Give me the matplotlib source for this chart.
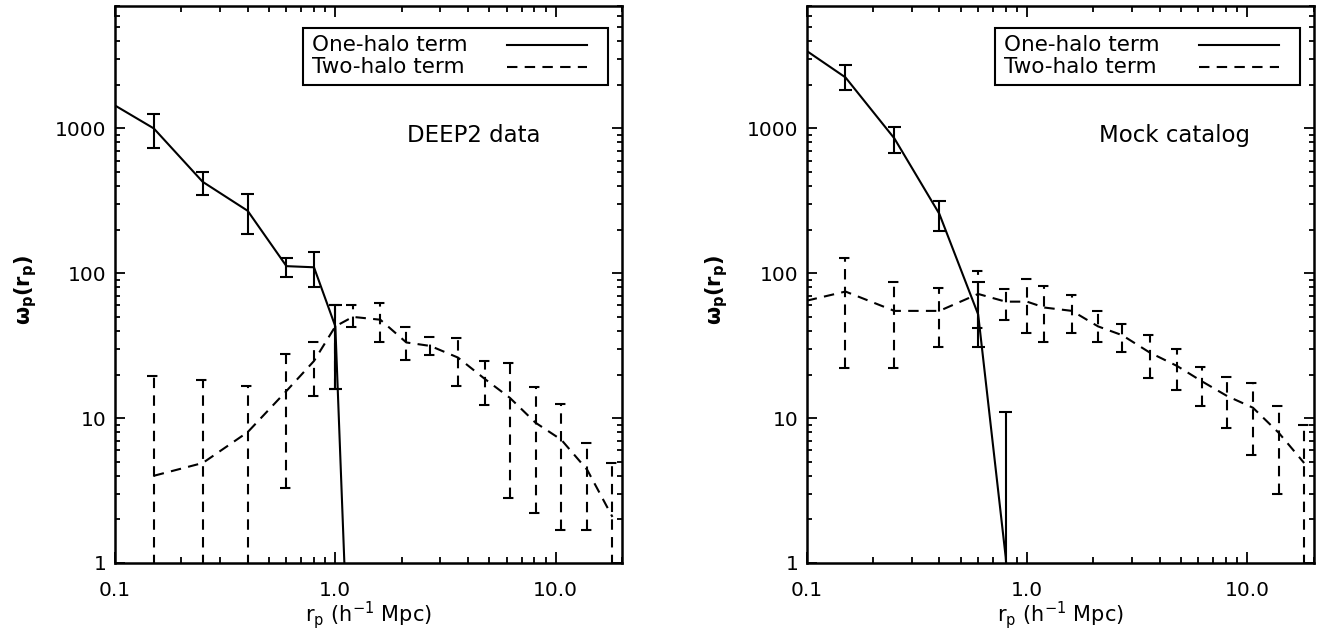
import numpy as np
import matplotlib
matplotlib.use('Agg')
import matplotlib.pyplot as plt
from matplotlib.patches import Rectangle
from matplotlib.lines import Line2D
from matplotlib.ticker import FixedLocator, FixedFormatter, LogLocator, NullFormatter

# ---------------- data ----------------
# Left panel: DEEP2 data
deep_one_x = [0.10, 0.15, 0.25, 0.40, 0.60, 0.80, 1.00, 1.20]
deep_one_y = [1440, 1000, 428, 270, 112, 110, 43, 0.03]
deep_one_ex = [0.15, 0.25, 0.40, 0.60, 0.80, 1.00]
deep_one_hi = [1250, 503, 354, 127, 140, 60]
deep_one_lo = [727, 348, 187, 95, 80, 16]

deep_two_x = [0.15, 0.25, 0.40, 0.60, 0.80, 1.0, 1.2, 1.6, 2.1, 2.7, 3.6, 4.8, 6.2, 8.1, 10.6, 13.9, 18.1]
deep_two_y = [4.0, 4.9, 8.0, 15.4, 24.8, 43, 50, 47.8, 33.3, 31.5, 26.2, 18.5, 13.8, 9.3, 7.1, 4.4, 2.08]
deep_two_hi = [19.4, 18.3, 16.8, 27.6, 33.4, 60, 60.5, 62, 42.7, 36.6, 36, 24.8, 24.2, 16.5, 12.6, 6.7, 4.9]
deep_two_lo = [0.01, 0.01, 0.01, 3.3, 14.3, 16, 42.3, 33.8, 25.1, 27.2, 16.6, 12.4, 2.8, 2.2, 1.7, 1.7, 0.01]

# Right panel: Mock catalog
mock_one_x = [0.10, 0.15, 0.25, 0.40, 0.60, 0.80, 1.00]
mock_one_y = [3427, 2249, 853, 257, 52, 1.1, 0.01]
mock_one_ex = [0.15, 0.25, 0.40, 0.60, 0.80]
mock_one_hi = [2722, 1016, 313, 87, 11.1]
mock_one_lo = [1846, 681, 195, 31, 0.01]

mock_two_x = [0.10, 0.15, 0.25, 0.40, 0.60, 0.80, 1.0, 1.2, 1.6, 2.1, 2.7, 3.6, 4.8, 6.2, 8.1, 10.6, 13.9, 18.1]
mock_two_y = [64.7, 74.8, 55, 55, 72, 63.7, 63.7, 58, 55, 43, 37.4, 28.4, 22.9, 18, 14.2, 11.8, 7.9, 4.9]
mock_two_ex = [0.15, 0.25, 0.40, 0.60, 0.80, 1.0, 1.2, 1.6, 2.1, 2.7, 3.6, 4.8, 6.2, 8.1, 10.6, 13.9, 18.1]
mock_two_hi = [127, 87, 79, 104, 78, 90.6, 81.5, 71, 54.6, 44.6, 37.4, 30.2, 22.7, 19.3, 17.6, 12.2, 9.0]
mock_two_lo = [22.3, 22.3, 31.2, 42, 47.8, 38.5, 33.8, 39, 33.6, 28.4, 19, 15.6, 12.2, 8.6, 5.6, 3.0, 0.01]

x_ticks = [0.1, 1.0, 10.0]
x_ticklabels = ['0.1', '1.0', '10.0']
y_ticks = [1, 10, 100, 1000]
y_ticklabels = ['1', '10', '100', '1000']
legend_labels = ['One-halo term', 'Two-halo term']
panel_labels = ['DEEP2 data', 'Mock catalog']

# ---------------- style ----------------
plt.rcParams['font.family'] = 'DejaVu Sans'
plt.rcParams['mathtext.fontset'] = 'dejavusans'

LW = 1.5
DASH = (0, (5, 3.5))
CAP = 1.07

fig = plt.figure(figsize=(13.28, 6.35), dpi=100)
W, H = 1328.0, 635.0
ax_l = fig.add_axes([115 / W, 72 / H, 507 / W, 557 / H])
ax_r = fig.add_axes([806.7 / W, 72 / H, 507 / W, 557 / H])


def draw_panel(ax, one_x, one_y, one_ex, one_hi, one_lo,
               two_x, two_y, two_ex, two_hi, two_lo, label, label_x):
    ax.set_xscale('log')
    ax.set_yscale('log')
    ax.set_xlim(0.1, 20)
    ax.set_ylim(1, 7000)

    # one-halo (solid)
    ax.plot(one_x, one_y, color='k', lw=LW)
    ex = np.array(one_ex)
    ax.vlines(ex, one_lo, one_hi, colors='k', lw=LW)
    ax.hlines(one_hi, ex / CAP, ex * CAP, colors='k', lw=LW)
    ax.hlines(one_lo, ex / CAP, ex * CAP, colors='k', lw=LW)

    # two-halo (dashed)
    ax.plot(two_x, two_y, color='k', lw=LW, linestyle=DASH)
    ex2 = np.array(two_ex)
    ax.vlines(ex2, two_lo, two_hi, colors='k', lw=LW, linestyles=[DASH])
    ax.hlines(two_hi, ex2 / CAP, ex2 * CAP, colors='k', lw=LW, linestyles=[DASH])
    ax.hlines(two_lo, ex2 / CAP, ex2 * CAP, colors='k', lw=LW, linestyles=[DASH])

    # axes styling
    for s in ax.spines.values():
        s.set_linewidth(1.8)
    ax.xaxis.set_major_locator(FixedLocator(x_ticks))
    ax.xaxis.set_major_formatter(FixedFormatter(x_ticklabels))
    ax.xaxis.set_minor_locator(LogLocator(base=10, subs=np.arange(2, 10)))
    ax.xaxis.set_minor_formatter(NullFormatter())
    ax.yaxis.set_major_locator(FixedLocator(y_ticks))
    ax.yaxis.set_major_formatter(FixedFormatter(y_ticklabels))
    ax.yaxis.set_minor_locator(LogLocator(base=10, subs=np.arange(2, 10)))
    ax.yaxis.set_minor_formatter(NullFormatter())
    ax.tick_params(which='both', direction='in', top=True, right=True, width=1.3)
    ax.tick_params(axis='x', which='major', length=8, pad=13, labelsize=14.5)
    ax.tick_params(axis='x', which='minor', length=4.3)
    ax.tick_params(axis='y', which='major', length=7.2, pad=6, labelsize=14.5)
    ax.tick_params(axis='y', which='minor', length=3.6)

    ax.set_xlabel(r'$\mathrm{r_p\ (h^{-1}\ Mpc)}$', fontsize=15)
    ax.xaxis.label.set_va('center')
    ax.xaxis.set_label_coords(0.5, -0.093)
    ax.set_ylabel(r'$\mathbf{\omega_p(r_p)}$', fontsize=15)
    ax.yaxis.label.set_va('center')
    ax.yaxis.set_label_coords(-0.177, 0.49)

    # legend box
    ax.add_patch(Rectangle((0.371, 0.858), 0.601, 0.1025, transform=ax.transAxes,
                           fill=False, lw=1.5, edgecolor='k', zorder=5))
    ax.text(0.389, 0.930, legend_labels[0], transform=ax.transAxes,
            ha='left', va='center', fontsize=15.5)
    ax.text(0.389, 0.8905, legend_labels[1], transform=ax.transAxes,
            ha='left', va='center', fontsize=15.5)
    ax.add_line(Line2D([0.773, 0.931], [0.930, 0.930], transform=ax.transAxes,
                       color='k', lw=LW))
    ax.add_line(Line2D([0.773, 0.931], [0.8905, 0.8905], transform=ax.transAxes,
                       color='k', lw=LW, linestyle=DASH))

    ax.text(label_x, 0.768, label, transform=ax.transAxes,
            ha='center', va='center', fontsize=16.5)


draw_panel(ax_l, deep_one_x, deep_one_y, deep_one_ex, deep_one_hi, deep_one_lo,
           deep_two_x, deep_two_y, deep_two_x, deep_two_hi, deep_two_lo,
           panel_labels[0], 0.707)
draw_panel(ax_r, mock_one_x, mock_one_y, mock_one_ex, mock_one_hi, mock_one_lo,
           mock_two_x, mock_two_y, mock_two_ex, mock_two_hi, mock_two_lo,
           panel_labels[1], 0.726)

fig.savefig('out.png', dpi=100)
